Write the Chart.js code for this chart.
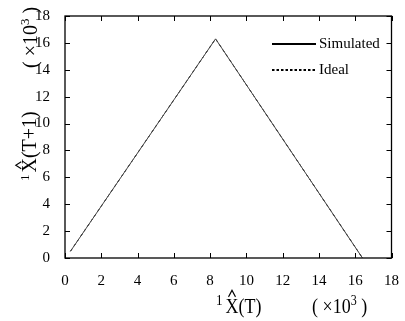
<!DOCTYPE html>
<html>
<head>
<meta charset="utf-8">
<script src="https://cdn.jsdelivr.net/npm/chart.js@4/dist/chart.umd.min.js"></script>
<style>
html,body{margin:0;padding:0;background:#fff;}
#wrap{width:405px;height:321px;}
</style>
</head>
<body>
<div id="wrap"><canvas id="c" width="405" height="321"></canvas></div>
<script>
// ---- data ----
const xTickValues = [0, 2, 4, 6, 8, 10, 12, 14, 16, 18];
const yTickValues = [0, 2, 4, 6, 8, 10, 12, 14, 16, 18];
const simulatedX = [0.3, 8.3, 16.4];
const simulatedY = [0.5, 16.3, 0];
const idealX = [0.3, 8.3, 16.4];
const idealY = [0.5, 16.3, 0];
const seriesLabels = ['Simulated', 'Ideal'];

const SERIF = '"Liberation Serif", "DejaVu Serif", serif';

function toPoints(xs, ys) { return xs.map((x, i) => ({x: x, y: ys[i]})); }

// draw a composite label: segments drawn in sequence along the baseline
function drawComposite(ctx, x, y, angle, sy, segs) {
  ctx.save();
  ctx.translate(x, y);
  ctx.rotate(angle);
  ctx.scale(1, sy);
  ctx.fillStyle = '#000';
  ctx.strokeStyle = '#000';
  ctx.textBaseline = 'alphabetic';
  ctx.textAlign = 'left';
  let cx = 0;
  segs.forEach(s => {
    ctx.font = s.size + 'px ' + SERIF;
    const w = ctx.measureText(s.text).width;
    ctx.fillText(s.text, cx, s.dy || 0);
    if (s.hat) {
      const cap = 0.662 * s.size;
      const mx = cx + w / 2;
      ctx.beginPath();
      ctx.lineWidth = 1.1;
      ctx.moveTo(mx - 3.5, -cap - 1.5);
      ctx.lineTo(mx, -cap - 7);
      ctx.lineTo(mx + 3.5, -cap - 1.5);
      ctx.stroke();
    }
    cx += w + (s.gap || 0);
  });
  ctx.restore();
}

const framePlugin = {
  id: 'frame',
  afterDraw(chart) {
    const ctx = chart.ctx;
    const a = chart.chartArea;
    const xs = chart.scales.x, ys = chart.scales.y;
    ctx.save();
    ctx.strokeStyle = '#000';
    ctx.lineWidth = 1.3;
    ctx.strokeRect(a.left, a.top, a.right - a.left, a.bottom - a.top);
    ctx.lineWidth = 1;
    const L = 5;
    ctx.beginPath();
    xTickValues.forEach(v => {
      const px = Math.round(xs.getPixelForValue(v)) + 0.5;
      ctx.moveTo(px, a.bottom); ctx.lineTo(px, a.bottom - L);
      ctx.moveTo(px, a.top); ctx.lineTo(px, a.top + L);
    });
    yTickValues.forEach(v => {
      const py = Math.round(ys.getPixelForValue(v)) + 0.5;
      ctx.moveTo(a.left, py); ctx.lineTo(a.left + L, py);
      ctx.moveTo(a.right, py); ctx.lineTo(a.right - L, py);
    });
    ctx.stroke();

    // legend inside plot
    const ds = chart.data.datasets;
    const rows = [{y: 44, ds: ds[0]}, {y: 70, ds: ds[1]}];
    rows.forEach(r => {
      ctx.beginPath();
      ctx.strokeStyle = '#000';
      ctx.lineWidth = 2.2;
      ctx.setLineDash(r.ds.borderDash && r.ds.borderDash.length ? [2.5, 2] : []);
      ctx.moveTo(272, r.y); ctx.lineTo(316, r.y);
      ctx.stroke();
      ctx.setLineDash([]);
      ctx.fillStyle = '#000';
      ctx.font = '15px ' + SERIF;
      ctx.textBaseline = 'middle';
      ctx.textAlign = 'left';
      ctx.fillText(r.ds.label, 319, r.y);
    });
    ctx.restore();

    // axis titles
    drawComposite(ctx, 216, 313, 0, 1.2, [
      {text: '1', size: 13, dy: -7, gap: 3},
      {text: 'X', size: 18, hat: true},
      {text: '(T)', size: 18}
    ]);
    drawComposite(ctx, 312, 313, 0, 1.2, [
      {text: '( ×10', size: 18},
      {text: '3', size: 12, dy: -7},
      {text: ' )', size: 18}
    ]);
    drawComposite(ctx, 36, 181, -Math.PI / 2, 1, [
      {text: '1', size: 13, dy: -7, gap: 2},
      {text: 'X', size: 20, hat: true},
      {text: '(T+1)', size: 20}
    ]);
    drawComposite(ctx, 37, 68, -Math.PI / 2, 1, [
      {text: '( ×10', size: 20},
      {text: '3', size: 13, dy: -8},
      {text: ' )', size: 20}
    ]);
  }
};

new Chart(document.getElementById('c'), {
  type: 'scatter',
  data: {
    datasets: [
      {
        label: seriesLabels[0],
        data: toPoints(simulatedX, simulatedY),
        showLine: true,
        borderColor: '#444',
        borderWidth: 1,
        pointRadius: 0,
        borderDash: []
      },
      {
        label: seriesLabels[1],
        data: toPoints(idealX, idealY),
        showLine: true,
        borderColor: '#000',
        borderWidth: 1,
        pointRadius: 0,
        borderDash: [3, 3]
      }
    ]
  },
  options: {
    responsive: false,
    animation: false,
    events: [],
    layout: {padding: {top: 10, right: 8, left: 0, bottom: 0}},
    plugins: {legend: {display: false}, tooltip: {enabled: false}, title: {display: false}},
    scales: {
      x: {
        type: 'linear', min: 0, max: 18,
        afterBuildTicks(s) { s.ticks = xTickValues.map(v => ({value: v})); },
        afterFit(s) { s.height = 63; },
        grid: {display: false},
        border: {display: false},
        ticks: {color: '#000', font: {family: SERIF, size: 15}, padding: 6, maxRotation: 0, autoSkip: false}
      },
      y: {
        type: 'linear', min: 0, max: 18,
        afterBuildTicks(s) { s.ticks = yTickValues.map(v => ({value: v})); },
        afterFit(s) { s.width = 65; },
        grid: {display: false},
        border: {display: false},
        ticks: {color: '#000', font: {family: SERIF, size: 15}, padding: 7, autoSkip: false}
      }
    }
  },
  plugins: [framePlugin]
});
</script>
</body>
</html>
